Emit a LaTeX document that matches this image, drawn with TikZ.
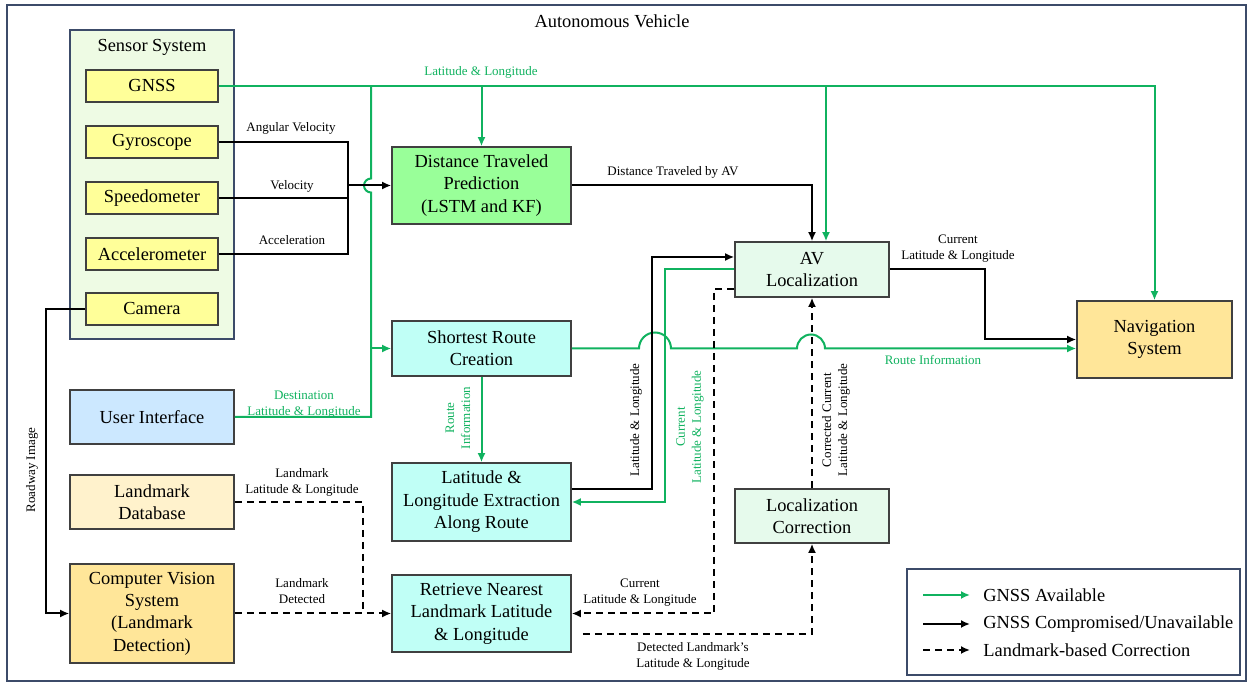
\documentclass[tikz,border=0pt]{standalone}
\usepackage{fontspec}
\setmainfont{Liberation Serif}
\usepackage{tikz}
\usetikzlibrary{arrows,arrows.meta}

\definecolor{gnssgreen}{RGB}{16,178,95}
\definecolor{framec}{RGB}{60,75,105}
\definecolor{sensorbg}{RGB}{238,251,228}
\definecolor{sensoryel}{RGB}{255,255,153}
\definecolor{predgreen}{RGB}{153,255,153}
\definecolor{routecyan}{RGB}{192,255,246}
\definecolor{locin}{RGB}{184,241,206}
\definecolor{locout}{RGB}{230,250,236}
\definecolor{uiblue}{RGB}{204,232,255}
\definecolor{dbcream}{RGB}{255,242,204}
\definecolor{sysorange}{RGB}{255,230,153}

\begin{document}
\begin{tikzpicture}[x=0.5pt, y=-0.5pt, >={Latex[length=4.5pt,width=4pt]},
  blk/.style={draw=black!75, line width=0.8pt, align=center, inner sep=1pt,
    font=\fontsize{9.2}{11.2}\selectfont},
  sensorbox/.style={blk, fill=sensoryel, minimum width=66pt, minimum height=16pt},
  routebox/.style={blk, fill=routecyan, minimum width=89.5pt},
  locbox/.style={blk, left color=locout, middle color=locin, right color=locout, minimum width=77pt},
  leftbox/.style={blk, minimum width=82pt, minimum height=27pt},
  lbl/.style={font=\fontsize{6.5}{8}\selectfont, align=center, inner sep=0pt},
  glbl/.style={lbl, text=gnssgreen},
  gline/.style={draw=gnssgreen, line width=1pt},
  bline/.style={draw=black, line width=1pt},
  dline/.style={draw=black, line width=1pt, dash pattern=on 3.5pt off 2.5pt}]

\useasboundingbox (0,0) rectangle (1250,683);
\draw[framec, line width=0.8pt] (7,5) rectangle (1246,681);
\node[font=\fontsize{9.2}{11.2}\selectfont] at (612,21) (title) {Autonomous Vehicle};

% sensors
\node[draw=framec, line width=0.6pt, fill=sensorbg, minimum width=82pt, minimum height=154.5pt] at (152,184.5) (sensors) {};
\node[font=\fontsize{9.2}{11.2}\selectfont] at (152,47) (sensorlbl) {Sensor System};
\node[sensorbox] at (152,86) (gnss) {GNSS};
\node[sensorbox] at (152,142) (gyro) {Gyroscope};
\node[sensorbox] at (152,198) (speedo) {Speedometer};
\node[sensorbox] at (152,254) (accel) {Accelerometer};
\node[sensorbox] at (152,309) (camera) {Camera};

% left column
\node[leftbox, fill=uiblue] at (152,417) (ui) {User Interface};
\node[leftbox, fill=dbcream] at (152,502) (ldb) {Landmark\\Database};
\node[leftbox, fill=sysorange, minimum height=49.5pt] at (152,613.5) (cvs) {Computer Vision\\System\\(Landmark\\Detection)};

% middle column
\node[blk, fill=predgreen, minimum width=89.5pt, minimum height=38.5pt] at (481.5,185.5) (dtp) {Distance Traveled\\Prediction\\(LSTM and KF)};
\node[routebox, minimum height=27.5pt] at (481.5,348.5) (src) {Shortest Route\\Creation};
\node[routebox, minimum height=39pt] at (481.5,502) (lle) {Latitude \&\\Longitude Extraction\\Along Route};
\node[routebox, minimum height=38.5pt] at (481.5,613.5) (rnl) {Retrieve Nearest\\Landmark Latitude\\\& Longitude};

% right side
\node[locbox, minimum height=27.5pt] at (812,269.5) (av) {AV\\Localization};
\node[locbox, minimum height=27pt] at (812,516) (lc) {Localization\\Correction};
\node[blk, fill=sysorange, minimum width=77.5pt, minimum height=38.5pt] at (1154.5,339.5) (nav) {Navigation\\System};

% GNSS bus
\draw[gline,->] (gnss.east) -| (nav.north);
\draw[gline,->] (dtp.north |- gnss.east) -- (dtp.north);
\draw[gline,->] ([xshift=7pt]av.north |- gnss.east) -- ([xshift=7pt]av.north);
\node[glbl] at (481,72) (latlon) {Latitude \& Longitude};
\draw[gline] (ui.east) -| (371,192.5) arc (90:270:7) -- (371,86);
\draw[gline,->] (371,348.5) -- (src.west);
\node[glbl] at (304,405) (destlbl) {Destination\\Latitude \& Longitude};

% inertial sensors
\coordinate (merge) at (348,185.5);
\draw[bline] (gyro.east) -| (merge);
\draw[bline] (speedo.east) -| (merge);
\draw[bline] (accel.east) -| (merge);
\draw[bline,->] (merge) -- (dtp.west);
\node[lbl] at (291,128) (angvel) {Angular Velocity};
\node[lbl] at (292,186) (vel) {Velocity};
\node[lbl] at (292,240) (acc) {Acceleration};

% prediction and route
\draw[bline,->] (dtp.east) -| (av.north);
\node[lbl] at (673,172) (distlbl) {Distance Traveled by AV};
\draw[gline,->] (src.east) -- (639,348.5) arc (180:360:16) -- (797,348.5) arc (180:360:14) -- (nav.west |- src.east);
\node[glbl] at (933,360) (routelbl) {Route Information};
\draw[gline,->] (src.south) -- (lle.north);
\node[glbl, rotate=90] at (458,418) (routeinfo) {Route\\Information};

% localization
\draw[bline,->] (av.east) -- (985,269.5) |- (nav.west);
\node[lbl] at (958,249) (curlbl) {Current\\Latitude \& Longitude};
\draw[bline,->] ([yshift=6.5pt]lle.east) -- (652,489) |- ([yshift=6.25pt]av.west);
\node[lbl, rotate=90] at (636,420) (lllbl) {Latitude \& Longitude};
\draw[gline,->] (av.west) -- (665,269.5) |- (lle.east);
\node[glbl, rotate=90] at (690,427) (curgreen) {Current\\Latitude \& Longitude};
\draw[dline,->] ([yshift=-9.75pt]av.west) -- (714,289) |- (rnl.east);
\node[lbl] at (640,593) (curdash) {Current\\Latitude \& Longitude};
\draw[dline,->] (lc.north) -- (av.south);
\node[lbl, rotate=90] at (836,420) (corrlbl) {Corrected Current\\Latitude \& Longitude};
\draw[dline,->] ([xshift=5.5pt,yshift=-10.25pt]rnl.east) -| (lc.south);
\node[lbl] at (693,656) (detlbl) {Detected Landmark's\\Latitude \& Longitude};

% landmarks
\draw[dline] (ldb.east) -| (363,613.5);
\node[lbl] at (302,482) (ldblbl) {Landmark\\Latitude \& Longitude};
\draw[dline,->] (cvs.east) -- (rnl.west);
\node[lbl] at (302,591) (detectlbl) {Landmark\\Detected};
\draw[bline,->] (camera.west) -- (46,309) |- (cvs.west);
\node[lbl, rotate=90] at (32,470) (roadlbl) {Roadway Image};

% legend
\node[draw=framec, line width=0.8pt, minimum width=166.5pt, minimum height=53pt] at (1073.5,622) (legend) {};
\foreach \y/\sty/\txt in {595/gline/{GNSS Available}, 624/bline/{GNSS Compromised/Unavailable}, 650/dline/{Landmark-based Correction}}{
  \draw[\sty,->] (923,\y) -- (970,\y);
  \node[anchor=west, inner sep=0pt, font=\fontsize{9.2}{11.2}\selectfont] at (983,\y) {\txt};
}

\end{tikzpicture}
\end{document}
